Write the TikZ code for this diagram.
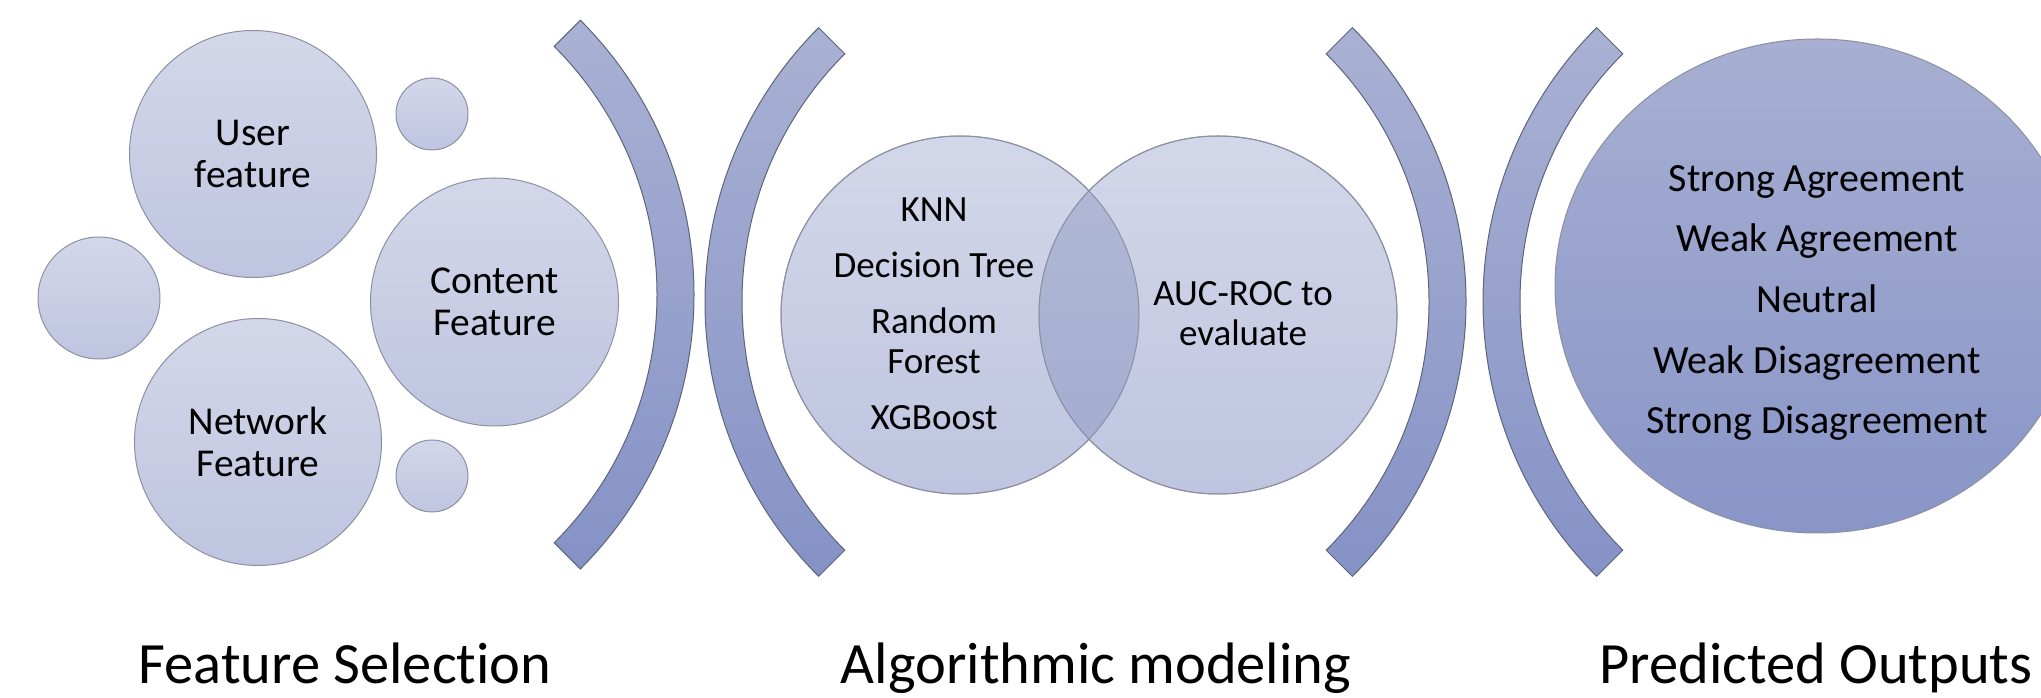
\documentclass[tikz,border=0pt]{standalone}
\usepackage{fontspec}
\setmainfont{Carlito}[Ligatures=NoCommon]
\definecolor{bublight}{HTML}{D3D7E9}
\definecolor{bubdark}{HTML}{BFC5E0}
\definecolor{lenslight}{HTML}{B3BAD7}
\definecolor{lensdark}{HTML}{A2ABCF}
\definecolor{rimgray}{HTML}{8C90A2}
\definecolor{brlight}{HTML}{A9B1D3}
\definecolor{brdark}{HTML}{8592C6}
\definecolor{brrim}{HTML}{5E657A}
\definecolor{outlight}{HTML}{A7AFD2}
\definecolor{outdark}{HTML}{8895C7}
\begin{document}
\begin{tikzpicture}[x=1pt,y=1pt,
  bubble/.style={circle, draw=rimgray, line width=1pt, top color=bublight,
    bottom color=bubdark, inner sep=0pt, align=center,
    font=\fontsize{39.5}{42.5}\selectfont},
  bracketarc/.style={draw=brrim, line width=1pt, top color=brlight, bottom color=brdark},
  label/.style={align=center, inner sep=0pt},
  heading/.style={font=\fontsize{58.5}{62}\selectfont, anchor=base, inner sep=0pt}
]
\useasboundingbox (0,0) rectangle (2041,698);

% ---------- feature selection cluster ----------
\node[bubble, minimum size=122pt] (dotleft) at (99,400) {};
\node[bubble, minimum size=72pt] (dottop) at (432,584) {};
\node[bubble, minimum size=72pt] (dotbot) at (432,222) {};
\node[bubble, minimum size=247pt] (user) at (253,544) {User\\feature};
\node[bubble, minimum size=248pt] (content) at (494.5,396) {Content\\Feature};
\node[bubble, minimum size=247pt] (network) at (258,256) {Network\\Feature};

% ---------- brackets ----------
\coordinate (bc1) at (306,403.4);
\coordinate (bc2) at (1093,396);
\coordinate (bc3) at (1078,396);
\coordinate (bc4) at (1871,396);
\path[bracketarc] ([shift={(-45:388pt)}]bc1) arc[start angle=-45,end angle=45,radius=388pt]
  -- ([shift={(45:351pt)}]bc1) arc[start angle=45,end angle=-45,radius=351pt] -- cycle;
\path[bracketarc] ([shift={(135:388pt)}]bc2) arc[start angle=135,end angle=225,radius=388pt]
  -- ([shift={(225:351pt)}]bc2) arc[start angle=225,end angle=135,radius=351pt] -- cycle;
\path[bracketarc] ([shift={(-45:388pt)}]bc3) arc[start angle=-45,end angle=45,radius=388pt]
  -- ([shift={(45:351pt)}]bc3) arc[start angle=45,end angle=-45,radius=351pt] -- cycle;
\path[bracketarc] ([shift={(135:388pt)}]bc4) arc[start angle=135,end angle=225,radius=388pt]
  -- ([shift={(225:351pt)}]bc4) arc[start angle=225,end angle=135,radius=351pt] -- cycle;

% ---------- Venn pair ----------
\node[bubble, minimum size=358pt] (vennleft) at (960,383) {};
\node[bubble, minimum size=358pt] (vennright) at (1218,383) {};
\begin{scope}
  \clip (vennleft.center) circle[radius=179pt];
  \path[top color=lenslight, bottom color=lensdark] (vennright.center) circle[radius=179pt];
\end{scope}
\draw[rimgray, line width=1pt] (vennleft.center) circle[radius=179pt];
\draw[rimgray, line width=1pt] (vennright.center) circle[radius=179pt];
\node[label, font=\fontsize{37}{40}\selectfont] (algos) at (934,384)
  {KNN\\[16pt]Decision Tree\\[16pt]Random\\Forest\\[16pt]XGBoost};
\node[label, font=\fontsize{37}{40}\selectfont] (metric) at (1243,384)
  {AUC-ROC to\\evaluate};

% ---------- predicted outputs ----------
\begin{scope}
  \clip (0,0) rectangle (2041,698);
  \path[draw=rimgray, line width=1pt, top color=outlight, bottom color=outdark]
    (1817,412) ellipse[x radius=262pt, y radius=247pt];
\end{scope}
\node[label, font=\fontsize{40}{60.7}\selectfont] (outputs) at (1817,395)
  {Strong Agreement\\Weak Agreement\\Neutral\\Weak Disagreement\\Strong Disagreement};

% ---------- stage headings ----------
\node[heading] (h1) at (345,14) {Feature Selection};
\node[heading] (h2) at (1096,14) {Algorithmic modeling};
\node[heading] (h3) at (1816,14) {Predicted Outputs};
\end{tikzpicture}
\end{document}
